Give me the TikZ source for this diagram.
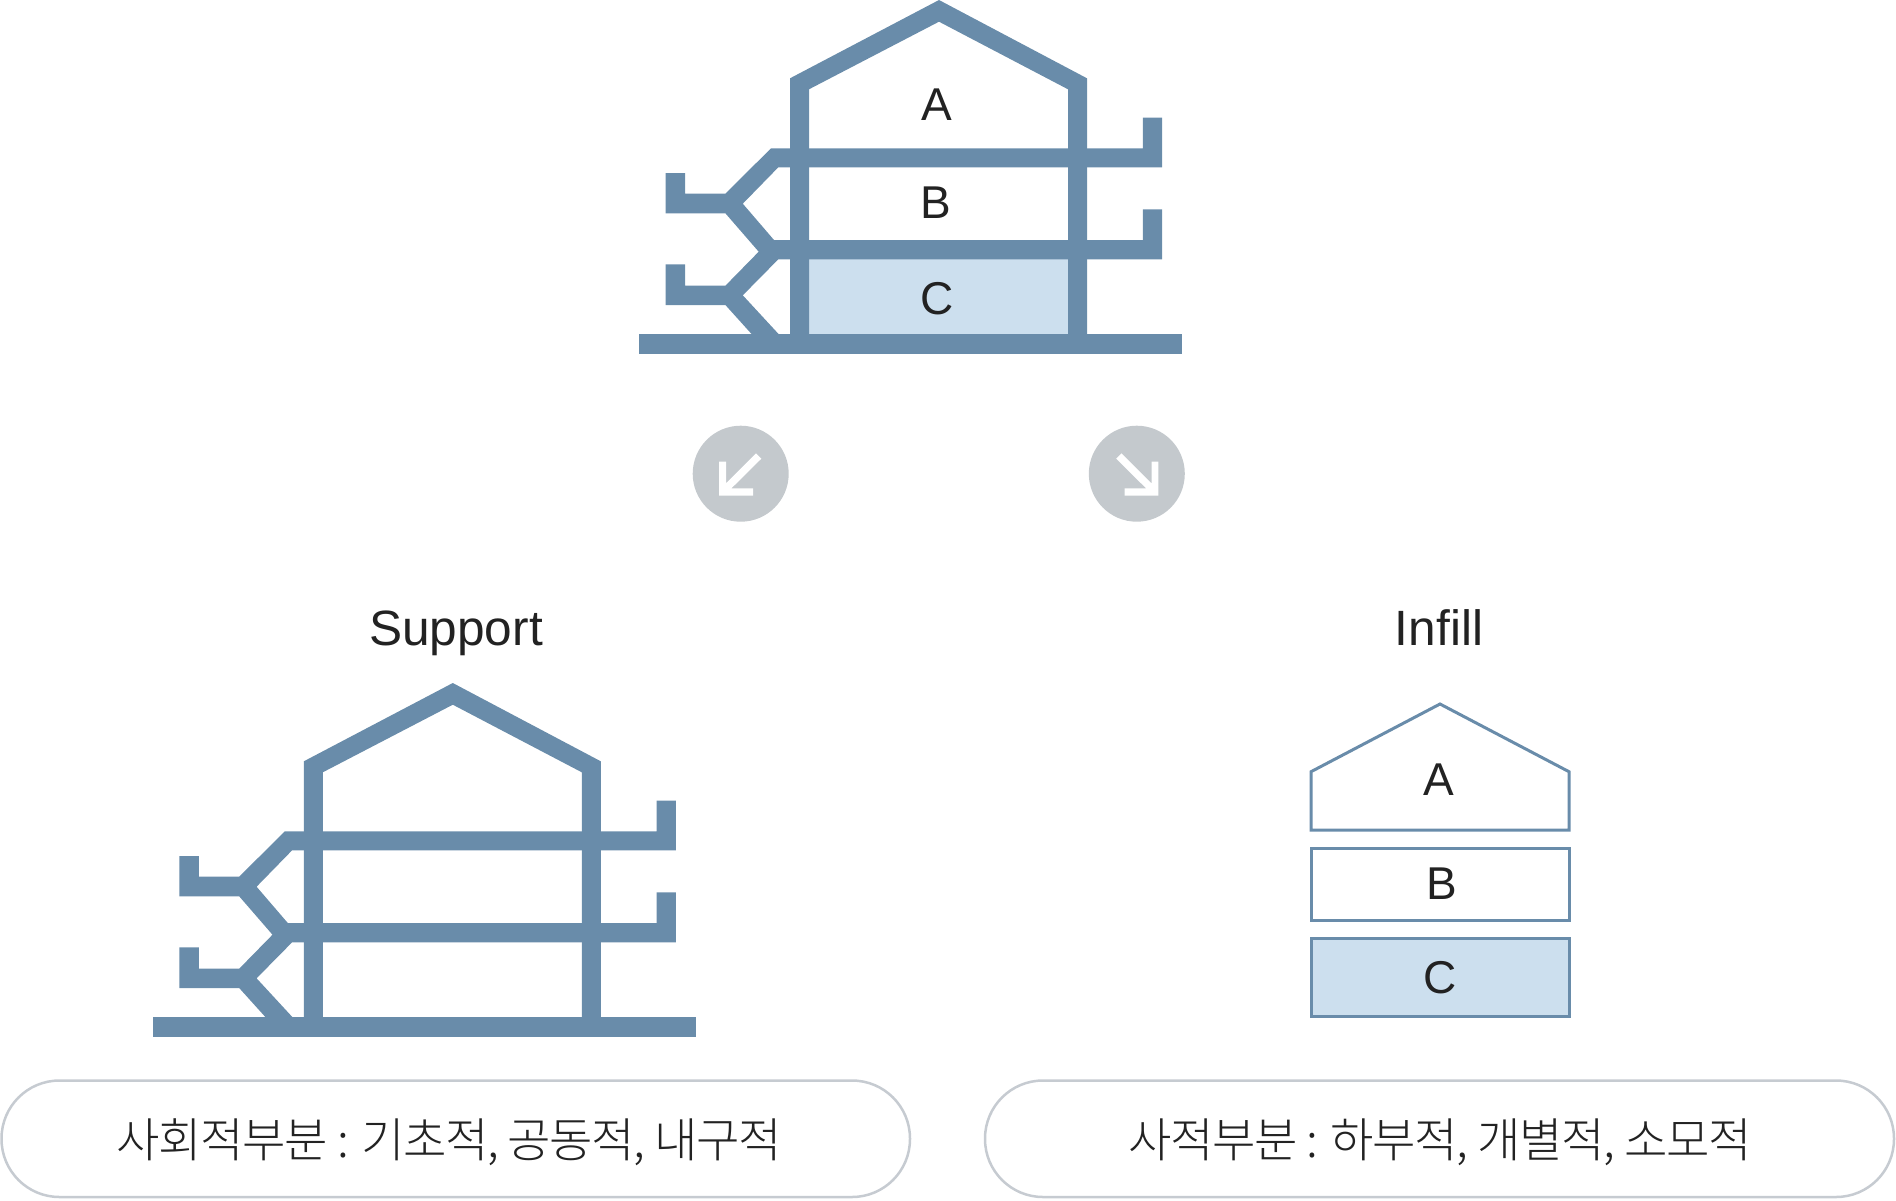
\documentclass[tikz,border=0pt]{standalone}
\usepackage{fontspec}
\setmainfont{Liberation Sans}
\newfontfamily\krfont[LetterSpace=-3,UprightFont=* Light]{Noto Sans CJK KR}
\definecolor{frameblue}{HTML}{698CAA}
\definecolor{roomblue}{HTML}{CCDFEE}
\definecolor{discgray}{HTML}{C4C9CD}
\definecolor{pillline}{HTML}{C6CBD1}
\definecolor{ink}{HTML}{222222}
\tikzset{
  framefill/.style={fill=frameblue,draw=none},
  outline/.style={draw=frameblue,line width=1.5pt,line join=miter},
  letter/.style={anchor=base,text=ink,font=\fontsize{23}{23}\selectfont,inner sep=0pt},
  heading/.style={anchor=base,text=ink,font=\fontsize{24.8}{24.8}\selectfont,inner sep=0pt},
  pill/.style={draw=pillline,line width=1.25pt,fill=white},
  caption/.style={anchor=base,text=ink,font=\krfont\fontsize{23.6}{23.6}\selectfont,inner sep=0pt},
}
\newcommand{\houseframe}{%
  \fill[framefill] (790,340)--(790,78.3)--(939,0)--(1087,78.3)--(1087,340)--(1068,340)--(1068,89.3)--(939,21.7)--(809,89.3)--(809,340)--cycle;
  \fill[framefill] (1162,167.3)--(1162,117.7)--(1142.8,117.7)--(1142.8,148.3)--(771,148.3)--(725.4,193.7)--(685,193.7)--(685,173)--(665.5,173)--(665.5,213.3)--(725.4,213.3)--(758.7,251.7)--(725.4,285.7)--(685,285.7)--(685,264.3)--(665.5,264.3)--(665.5,305)--(725.4,305)--(752,334.5)--(779,334.5)--(742.8,295.3)--(778.3,259.3)--(1162,259.3)--(1162,209.3)--(1142.8,209.3)--(1142.8,240)--(774,240)--(742.8,203.7)--(778.3,167.3)--cycle;
  \fill[framefill] (639,334.3) rectangle (1182,353.7);
}
\begin{document}
\begin{tikzpicture}[x=0.5pt,y=-0.5pt]
\useasboundingbox (0,0) rectangle (1896,1200);
% top house
\fill[roomblue] (809,259.3) rectangle (1068,334.3);
\houseframe
\node[letter] (topA) at (937,120.7) {A};
\node[letter] (topB) at (936,218.7) {B};
\node[letter] (topC) at (937.4,314.5) {C};
% arrow discs
\fill[discgray] (740.7,473.7) circle (48);
\fill[white] (719.1,495.7)--(753,495.7)--(753,488.3)--(731.4,488.3)--(761.3,458.7)--(756,453.3)--(726,483.3)--(726,461.7)--(719.1,461.7)--cycle;
\fill[discgray] (1136.8,473.7) circle (48);
\fill[white] (1158.4,495.7)--(1124.5,495.7)--(1124.5,488.3)--(1146.1,488.3)--(1116.2,458.7)--(1121.5,453.3)--(1151.5,483.3)--(1151.5,461.7)--(1158.4,461.7)--cycle;
% headings
\node[heading] (support) at (456,645) {Support};
\node[heading] (infill) at (1439,645) {Infill};
% support frame
\begin{scope}[shift={(-486.2,683)}]
\houseframe
\end{scope}
% infill stack
\draw[outline] (1311,830)--(1311,771.7)--(1440,704)--(1569,771.7)--(1569,830)--cycle;
\draw[outline] (1311,848) rectangle (1569,920);
\draw[outline,fill=roomblue] (1311,938) rectangle (1569,1016);
\node[letter] (infA) at (1439,795) {A};
\node[letter] (infB) at (1441.7,899) {B};
\node[letter] (infC) at (1440,993.5) {C};
% pills
\draw[pill,rounded corners=29pt] (1.5,1080.5) rectangle (910,1197);
\draw[pill,rounded corners=29pt] (985,1080.5) rectangle (1894,1197);
\node[caption] (capL) at (449.5,1157.5) {사회적부분 : 기초적, 공동적, 내구적};
\node[caption] (capR) at (1440,1157.5) {사적부분 : 하부적, 개별적, 소모적};
\end{tikzpicture}
\end{document}
